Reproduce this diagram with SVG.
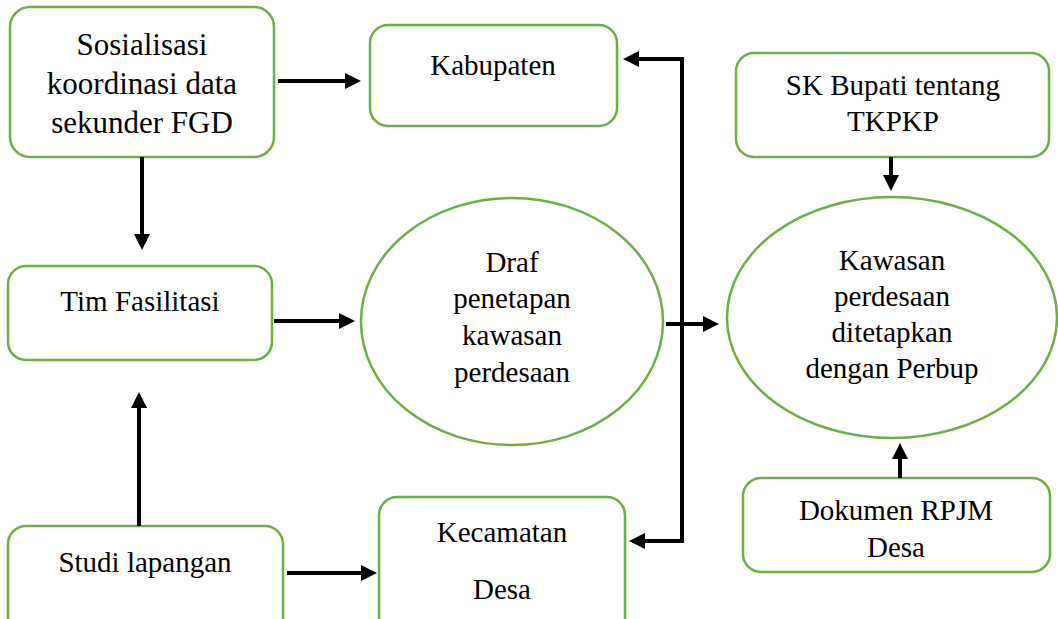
<svg xmlns="http://www.w3.org/2000/svg" width="1058" height="619" viewBox="0 0 1058 619" font-family="'Liberation Serif', 'DejaVu Serif', serif">
<style>
.n{fill:#fff;stroke:#70AD47;stroke-width:2.5}
.t{font-family:'Liberation Serif','DejaVu Serif',serif;font-size:29px;fill:#000;text-anchor:middle}
.c{fill:none;stroke:#000;stroke-width:4;marker-end:url(#ah)}
</style>
<defs>
<marker id="ah" markerUnits="userSpaceOnUse" markerWidth="16" markerHeight="16" refX="8" refY="8" orient="auto" viewBox="0 0 16 16">
<path d="M0,0 L16,8 L0,16 Z" fill="#000"/>
</marker>
</defs>
<rect width="1058" height="619" fill="#fff"/>
<g id="sosialisasi">
<rect class="n" x="10" y="7" width="264" height="150" rx="20"/>
<text class="t" style="font-size:31px" x="142" y="55">Sosialisasi</text>
<text class="t" style="font-size:31px" x="142" y="94">koordinasi data</text>
<text class="t" style="font-size:31px" x="142" y="133">sekunder FGD</text>
</g>
<g id="kabupaten">
<rect class="n" x="370" y="25" width="247" height="101" rx="18"/>
<text class="t" x="493" y="75">Kabupaten</text>
</g>
<g id="sk-bupati">
<rect class="n" x="736" y="53" width="313" height="104" rx="18"/>
<text class="t" x="893" y="95">SK Bupati tentang</text>
<text class="t" x="893" y="131">TKPKP</text>
</g>
<g id="tim-fasilitasi">
<rect class="n" x="8" y="266" width="264" height="94" rx="18"/>
<text class="t" x="140" y="311">Tim Fasilitasi</text>
</g>
<g id="draf">
<ellipse class="n" cx="512" cy="321.5" rx="151" ry="123.5"/>
<text class="t" x="512" y="272">Draf</text>
<text class="t" x="512" y="308">penetapan</text>
<text class="t" x="512" y="345">kawasan</text>
<text class="t" x="512" y="382">perdesaan</text>
</g>
<g id="kawasan">
<ellipse class="n" cx="892" cy="317.5" rx="165" ry="120.5"/>
<text class="t" x="892" y="270">Kawasan</text>
<text class="t" x="892" y="306">perdesaan</text>
<text class="t" x="892" y="342">ditetapkan</text>
<text class="t" x="892" y="378">dengan Perbup</text>
</g>
<g id="studi-lapangan">
<rect class="n" x="8" y="526" width="275" height="112" rx="18"/>
<text class="t" x="145" y="572">Studi lapangan</text>
</g>
<g id="kecamatan-desa">
<rect class="n" x="379" y="497" width="246" height="141" rx="18"/>
<text class="t" x="502" y="542">Kecamatan</text>
<text class="t" x="502" y="599">Desa</text>
</g>
<g id="dokumen-rpjm">
<rect class="n" x="743" y="478" width="307" height="94" rx="18"/>
<text class="t" x="896" y="520">Dokumen RPJM</text>
<text class="t" x="896" y="557">Desa</text>
</g>
<g id="connectors">
<path class="c" d="M278,81 H353"/>
<path class="c" d="M142,157 V242"/>
<path class="c" d="M274,321 H347"/>
<path class="c" d="M139,526 V400"/>
<path class="c" d="M287,573 H369"/>
<path class="c" d="M666,324 H711"/>
<path class="c" d="M682,300 V59 H631"/>
<path class="c" d="M682,300 V541 H637"/>
<path class="c" d="M891,157 V183"/>
<path class="c" d="M900,478 V451"/>
</g>
</svg>
